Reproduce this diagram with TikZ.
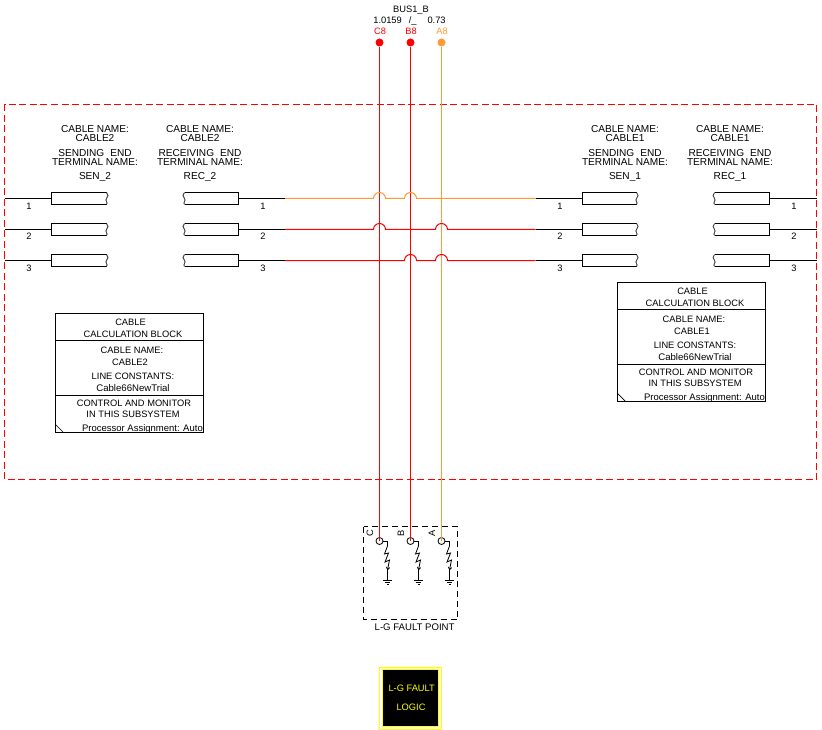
\documentclass[tikz,border=0pt]{standalone}
\usepackage{fontspec}
\setmainfont{Liberation Sans}
\usetikzlibrary{calc,arrows.meta}
\definecolor{wirered}{RGB}{255,0,0}
\definecolor{wireorange}{RGB}{255,153,51}
\definecolor{logicyellow}{RGB}{255,255,0}
\newcommand{\fsmall}{\fontsize{9.3}{11}\selectfont}
\newcommand{\fhead}{\fontsize{10.1}{12}\selectfont}
\tikzset{
  lbl/.style={font=\fsmall,inner sep=0pt,anchor=base,text=black},
  hlbl/.style={font=\fhead,inner sep=0pt,anchor=base,text=black},
  wire/.style={line width=1pt,line join=miter},
  cablebox/.style={rectangle,inner sep=0pt,outer sep=0pt,minimum width=#1,minimum height=12pt},
  boxedge/.style={draw=black,line width=0.9pt},
  wiggle/.style={draw=black!75,line width=0.9pt},
  blockbox/.style={draw=black,line width=0.9pt,rectangle,inner sep=0pt,outer sep=0pt,minimum width=148pt},
  term/.style={circle,fill=#1,draw=none,inner sep=0pt,minimum size=8pt},
  faultterm/.style={circle,draw=black,line width=0.8pt,inner sep=0pt,outer sep=0pt,minimum size=7pt},
  thinwire/.style={line width=0.8pt,black}
}
\newcommand{\cablerowL}[4]{% prefix, centre x, y, width: wavy end on the right
  \node[cablebox=#4] (#1) at (#2,#3) {};
  \draw[boxedge] (#1.north east) -- (#1.north west) -- (#1.south west) -- (#1.south east);
  \draw[wiggle] (#1.north east) .. controls ($(#1.north east)+(2,2)$) and ($(#1.north east)+(2,4)$) .. ($(#1.north east)+(0,6)$) .. controls ($(#1.north east)+(-2,8)$) and ($(#1.north east)+(2,10)$) .. (#1.south east);
}
\newcommand{\cablerowR}[4]{% prefix, centre x, y, width: wavy end on the left
  \node[cablebox=#4] (#1) at (#2,#3) {};
  \draw[boxedge] (#1.north west) -- (#1.north east) -- (#1.south east) -- (#1.south west);
  \draw[wiggle] (#1.north west) .. controls ($(#1.north west)+(-2,2)$) and ($(#1.north west)+(-2,4)$) .. ($(#1.north west)+(0,6)$) .. controls ($(#1.north west)+(2,8)$) and ($(#1.north west)+(-2,10)$) .. (#1.south west);
}
\newcommand{\headtext}[5]{% x, cable, first word, terminal, prefix
  \node[hlbl] (#5a) at (#1,132.3) {CABLE NAME:};
  \node[hlbl] (#5b) at (#1,142) {#2};
  \node[hlbl] (#5c) at (#1,157) {#3\hspace{6pt}END};
  \node[hlbl] (#5d) at (#1,166) {TERMINAL NAME:};
  \node[hlbl] (#5e) at (#1,180) {#4};
}
\newcommand{\calcblock}[4]{% prefix, top y, centre x, cable
  \node[blockbox,minimum height=27pt,anchor=north] (#1h) at (#3,#2) {};
  \node[blockbox,minimum height=55pt,anchor=north] (#1m) at (#1h.south) {};
  \node[blockbox,minimum height=37pt,anchor=north] (#1c) at (#1m.south) {};
  \node[lbl] (#1t1) at (#3+1.5,#2+12.2) {CABLE};
  \node[lbl] (#1t2) at (#3+4,#2+24.2) {CALCULATION BLOCK};
  \node[lbl] (#1t3) at (#3+3,#2+40.2) {CABLE NAME:};
  \node[lbl] (#1t4) at (#3+1,#2+52.7) {#4};
  \node[lbl] (#1t5) at (#3+4,#2+66.7) {LINE CONSTANTS:};
  \node[lbl,font=\fontsize{9.6}{11}\selectfont] (#1t6) at (#3+4,#2+78.2) {Cable66NewTrial};
  \node[lbl] (#1t7) at (#3+5,#2+93.7) {CONTROL AND MONITOR};
  \node[lbl] (#1t8) at (#3+4,#2+104.7) {IN THIS SUBSYSTEM};
  \node[lbl,font=\fontsize{9.5}{11}\selectfont,anchor=base east] (#1t9) at (#3+74,#2+118.7) {Processor Assignment: Auto};
  \draw[line width=0.7pt] ($(#1c.south west)+(0,-8)$) -- ($(#1c.south west)+(8,0)$);
}
\newcommand{\faultbranch}[3]{% prefix, x of circle, label
  \node[faultterm] (#1t) at (#2,541) {};
  \coordinate (#1g) at (#2+8,580.5);
  \draw[thinwire] (#1t.east) -- (#2+8,541) -- (#2+8,546);
  \draw[thinwire,-{To[length=3pt,width=4pt]}] (#2+8,546) -- (#2+5,554) -- (#2+9,553) -- (#2+5.5,562) -- (#2+10,560) -- (#2+8,570);
  \draw[thinwire] (#2+8,570) -- (#1g);
  \draw[thinwire] ($(#1g)+(-4.7,0)$) -- ($(#1g)+(4.7,0)$);
  \draw[thinwire] ($(#1g)+(-2.7,2)$) -- ($(#1g)+(2.7,2)$);
  \draw[thinwire] ($(#1g)+(-1,4)$) -- ($(#1g)+(1,4)$);
  \node[lbl,rotate=90,anchor=base] (#1l) at (#2-6.5,533) {#3};
}
\begin{document}
\begin{tikzpicture}[x=1pt,y=-1pt]
\useasboundingbox (0,0) rectangle (822,730);

% subsystem frame
\draw[wirered,line width=0.9pt,dash pattern=on 7pt off 3.5pt] (4.5,104.5) rectangle (816.5,479.5);

% bus labels
\node[lbl] (busname) at (411,12.5) {BUS1\_B};
\node[lbl] (busval) at (409.5,23.5) {1.0159\hspace{7pt}/\_\hspace{11pt}0.73};
\node[lbl,text=wirered] (c8) at (380,34.5) {C8};
\node[lbl,text=wirered] (b8) at (411,34.5) {B8};
\node[lbl,text=wireorange] (a8) at (442,34.5) {A8};
\node[term=wirered] (tc) at (379.5,42.5) {};
\node[term=wirered] (tb) at (410.5,42.5) {};
\node[term=wireorange] (ta) at (441.5,42.5) {};

% headers
\headtext{95}{CABLE2}{SENDING}{SEN\_2}{ha}
\headtext{200}{CABLE2}{RECEIVING}{REC\_2}{hb}
\headtext{625}{CABLE1}{SENDING}{SEN\_1}{hc}
\headtext{730}{CABLE1}{RECEIVING}{REC\_1}{hd}

% cable end boxes
\foreach \n/\y in {1/198.5,2/229.5,3/260.5}{
  \cablerowL{sa\n}{79}{\y}{55pt}
  \cablerowR{ra\n}{211.5}{\y}{54pt}
  \cablerowL{sb\n}{609.5}{\y}{54pt}
  \cablerowR{rb\n}{742}{\y}{55pt}
  \coordinate (fl\n) at (4.5,\y);
  \coordinate (fr\n) at (816.5,\y);
  \coordinate (ca\n) at (285,\y);
  \coordinate (cb\n) at (535.5,\y);
  \draw[wire] (fl\n) -- (sa\n.west);
  \draw[wire] (ra\n.east) -- (ca\n);
  \draw[wire] (cb\n) -- (sb\n.west);
  \draw[wire] (rb\n.east) -- (fr\n);
}
% terminal numbers
\foreach \x/\k in {29/p,263/q,560/r,794/s}{
  \node[lbl] (n1\k) at (\x,209.5) {1};
  \node[lbl] (n2\k) at (\x,240) {2};
  \node[lbl] (n3\k) at (\x,272) {3};
}

% fault block (drawn first so that the wires end on the circles)
\draw[black,line width=0.9pt,dash pattern=on 6pt off 4pt] (363.5,526.5) rectangle (457.5,619.5);
\faultbranch{xc}{379.5}{C}
\faultbranch{xb}{410.5}{B}
\faultbranch{xa}{441.5}{A}
\node[lbl,font=\fontsize{9.6}{11}\selectfont] (faultname) at (414.6,630) {L-G FAULT POINT};

% vertical wires
\draw[wire,wirered] (tc) -- (xct.center);
\draw[wire,wirered] (tb) -- (xbt.center);
\draw[wire,wireorange] (ta) -- (xat.center);

% horizontal wires with jumps
\draw[wire,wireorange] (ca1) -- (373.5,198.5) arc[start angle=180,end angle=360,radius=6] -- (404.5,198.5) arc[start angle=180,end angle=360,radius=6] -- (cb1);
\draw[wire,wirered] (ca2) -- (373.5,229.5) arc[start angle=180,end angle=360,radius=6] -- (435.5,229.5) arc[start angle=180,end angle=360,radius=6] -- (cb2);
\draw[wire,wirered] (ca3) -- (404.5,260.5) arc[start angle=180,end angle=360,radius=6] -- (435.5,260.5) arc[start angle=180,end angle=360,radius=6] -- (cb3);

% calculation blocks
\calcblock{bl}{313}{129}{CABLE2}
\calcblock{br}{282}{691}{CABLE1}

% logic
\node[rectangle,draw=logicyellow,line width=1pt,minimum width=62pt,minimum height=62pt,inner sep=0pt,outer sep=0pt] (logo) at (410.5,698) {};
\node[rectangle,fill=black,draw=logicyellow,line width=1pt,minimum width=56.5pt,minimum height=56.5pt,inner sep=0pt,outer sep=0pt] (logi) at (410.5,698) {};
\node[lbl,text=logicyellow] (l1) at (411.7,691) {L-G FAULT};
\node[lbl,text=logicyellow] (l2) at (411,710) {LOGIC};
\end{tikzpicture}
\end{document}
